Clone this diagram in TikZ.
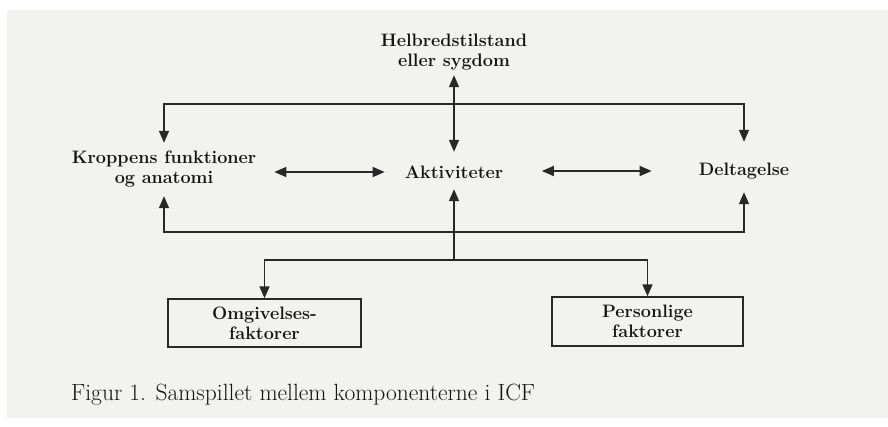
\documentclass[tikz,border=0pt]{standalone}
\usetikzlibrary{arrows.meta}
\definecolor{paper}{RGB}{242,242,241}
\definecolor{ink}{RGB}{20,20,20}
\definecolor{lineink}{RGB}{40,40,40}
\begin{document}
\begin{tikzpicture}[x=1pt,y=-1pt,
  lbl/.style={font=\bfseries\fontsize{18}{20}\selectfont, align=center, inner sep=0pt, text=ink},
  boxnode/.style={draw=lineink, line width=1.4pt, font=\bfseries\fontsize{18}{20}\selectfont, align=center, inner sep=0pt, text=ink},
  conn/.style={draw=lineink, line width=1.6pt, -{Triangle[length=12pt,width=10pt]}},
  dconn/.style={draw=lineink, line width=1.6pt, {Triangle[length=12pt,width=10pt]}-{Triangle[length=12pt,width=10pt]}}
]
\useasboundingbox (0,0) rectangle (888,426);
\fill[paper] (7,10) rectangle (888,418);

% label nodes
\node[lbl, minimum height=46pt] (H) at (454,52) {Helbredstilstand\\eller sygdom};
\node[lbl, minimum height=53pt] (K) at (164,169.5) {Kroppens funktioner\\og anatomi};
\node[lbl, anchor=base, text height=26pt, text depth=11pt] (A) at (454,178) {Aktiviteter};
\node[lbl, anchor=base, text height=33pt, text depth=17pt] (D) at (744,175) {Deltagelse};

% boxes
\node[boxnode, minimum width=193pt, minimum height=48pt] (O) at (264.5,323) {Omgivelses-\\faktorer};
\node[boxnode, minimum width=191pt, minimum height=49pt] (P) at (647.5,321.5) {Personlige\\faktorer};

% caption
\node[anchor=base west, inner sep=0pt, text=ink, font=\fontsize{23.5}{26}\selectfont] (cap) at (71,400) {Figur 1. Samspillet mellem komponenterne i ICF};

% connectors
\draw[dconn] (H.south) -- (A.north);
\draw[dconn] (K.north) -- ++(0,-39) -| (D.north);
\draw[dconn] (K.south) -- ++(0,36) -| (D.south);
\draw[dconn] ([xshift=18pt,yshift=-2.5pt]K.east) -- ([xshift=-20pt,yshift=-1.5pt]A.west);
\draw[dconn] ([xshift=38.5pt,yshift=-0.5pt]A.east) -- ([xshift=-47pt,yshift=-4pt]D.west);

\coordinate (J) at (454,260);
\draw[conn] (J) -- (A.south);
\draw[conn] (J) -| (O.north);
\draw[conn] (J) -| (P.north);
\end{tikzpicture}
\end{document}
